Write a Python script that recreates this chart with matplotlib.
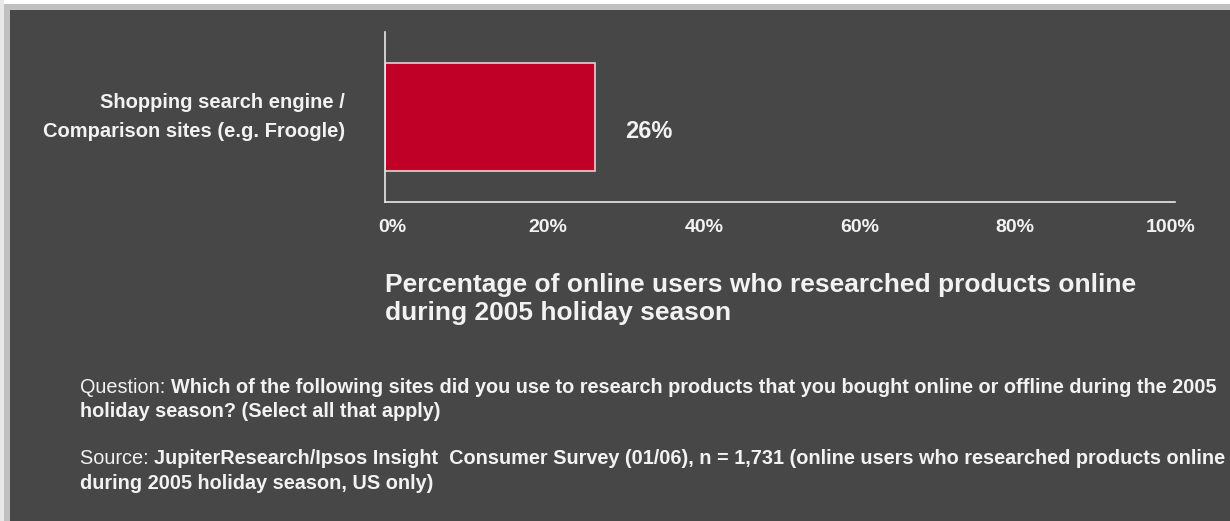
"""
Shopping search engine usage, 2005 holiday season (JupiterResearch)
"""

import matplotlib
matplotlib.use("Agg")
import matplotlib.pyplot as plt
from matplotlib.patches import Rectangle

# data
categories = ["Shopping search engine /\nComparison sites (e.g. Froogle)"]
values = [26]
tick_values = [0, 20, 40, 60, 80, 100]
tick_labels = ["0%", "20%", "40%", "60%", "80%", "100%"]

title = "Percentage of online users who researched products online\nduring 2005 holiday season"
question_lead = "Question: "
question_bold = ("Which of the following sites did you use to research products that you bought online or offline during the 2005")
question_bold2 = "holiday season? (Select all that apply)"
source_lead = "Source: "
source_bold = ("JupiterResearch/Ipsos Insight  Consumer Survey (01/06), n = 1,731 (online users who researched products online")
source_bold2 = "during 2005 holiday season, US only)"

BG = "#474747"
FG = "#f2f2f2"
BAR = "#c00026"

plt.rcParams["font.family"] = ["Liberation Sans", "DejaVu Sans"]

W, H = 1230, 521
fig = plt.figure(figsize=(W / 100, H / 100), dpi=100, facecolor="#c0c0c0")

# frame: white strip, grey border, dark panel
fig.patches.append(Rectangle((0, 1 - 4 / H), 1, 4 / H, transform=fig.transFigure,
                             facecolor="white", edgecolor="none", zorder=-2))
fig.patches.append(Rectangle((0, 0), 4 / W, 1, transform=fig.transFigure,
                             facecolor="#e8e8e8", edgecolor="none", zorder=-2))
fig.patches.append(Rectangle((10 / W, 0), 1, 1 - 10 / H, transform=fig.transFigure,
                             facecolor=BG, edgecolor="none", zorder=-1))


def px(x, y):
    """pixel (from top-left) -> figure fraction"""
    return x / W, 1 - y / H


x0, x1 = 385, 1175
y_top, y_bot = 32, 202
ax = fig.add_axes([x0 / W, 1 - y_bot / H, (x1 - x0) / W, (y_bot - y_top) / H])
ax.set_facecolor("none")
ax.set_xlim(-1, 100.6)
ax.set_ylim(-0.5, 0.5)

lo = ax.get_xlim()[0]
bars = ax.barh([0], [v - lo for v in values], left=lo, height=0.635, color=BAR,
               edgecolor="#e6d0d4", linewidth=1.2)

for s in ["top", "right"]:
    ax.spines[s].set_visible(False)
for s in ["left", "bottom"]:
    ax.spines[s].set_color("#e8e8e8")
    ax.spines[s].set_linewidth(1.2)

ax.set_yticks([])
ax.set_xticks(tick_values)
ax.set_xticklabels(tick_labels, fontsize=14, fontweight="bold", color=FG)
ax.tick_params(axis="x", length=0, pad=12)

# value label
for bar, val in zip(bars, values):
    ax.annotate(f"{val}%", xy=(bar.get_x() + bar.get_width(), bar.get_y() + bar.get_height() / 2),
                xytext=(30, -14), textcoords="offset pixels",
                fontsize=17, fontweight="bold", color=FG, va="center", ha="left")

# category label
fig.text(*px(345, 117), categories[0], ha="right", va="center", fontsize=14.5,
         fontweight="bold", color=FG, linespacing=1.62)

# title
fig.text(*px(385, 292), title.split("\n")[0], ha="left", va="baseline", fontsize=19,
         fontweight="bold", color=FG)
fig.text(*px(385, 320), title.split("\n")[1], ha="left", va="baseline", fontsize=19,
         fontweight="bold", color=FG)

FS = 14.3


def mixed(x, y, lead, bold):
    t = fig.text(*px(x, y), lead, ha="left", va="baseline", fontsize=FS, color=FG)
    fig.canvas.draw()
    ext = t.get_window_extent()
    fig.text(ext.x1 / W, 1 - y / H, bold, ha="left", va="baseline", fontsize=FS,
             fontweight="bold", color=FG)


mixed(80, 393, question_lead, question_bold)
fig.text(*px(80, 417), question_bold2, ha="left", va="baseline", fontsize=FS,
         fontweight="bold", color=FG)
mixed(80, 464, source_lead, source_bold)
fig.text(*px(80, 489), source_bold2, ha="left", va="baseline", fontsize=FS,
         fontweight="bold", color=FG)

fig.savefig("out.png", dpi=100, facecolor=fig.get_facecolor())
